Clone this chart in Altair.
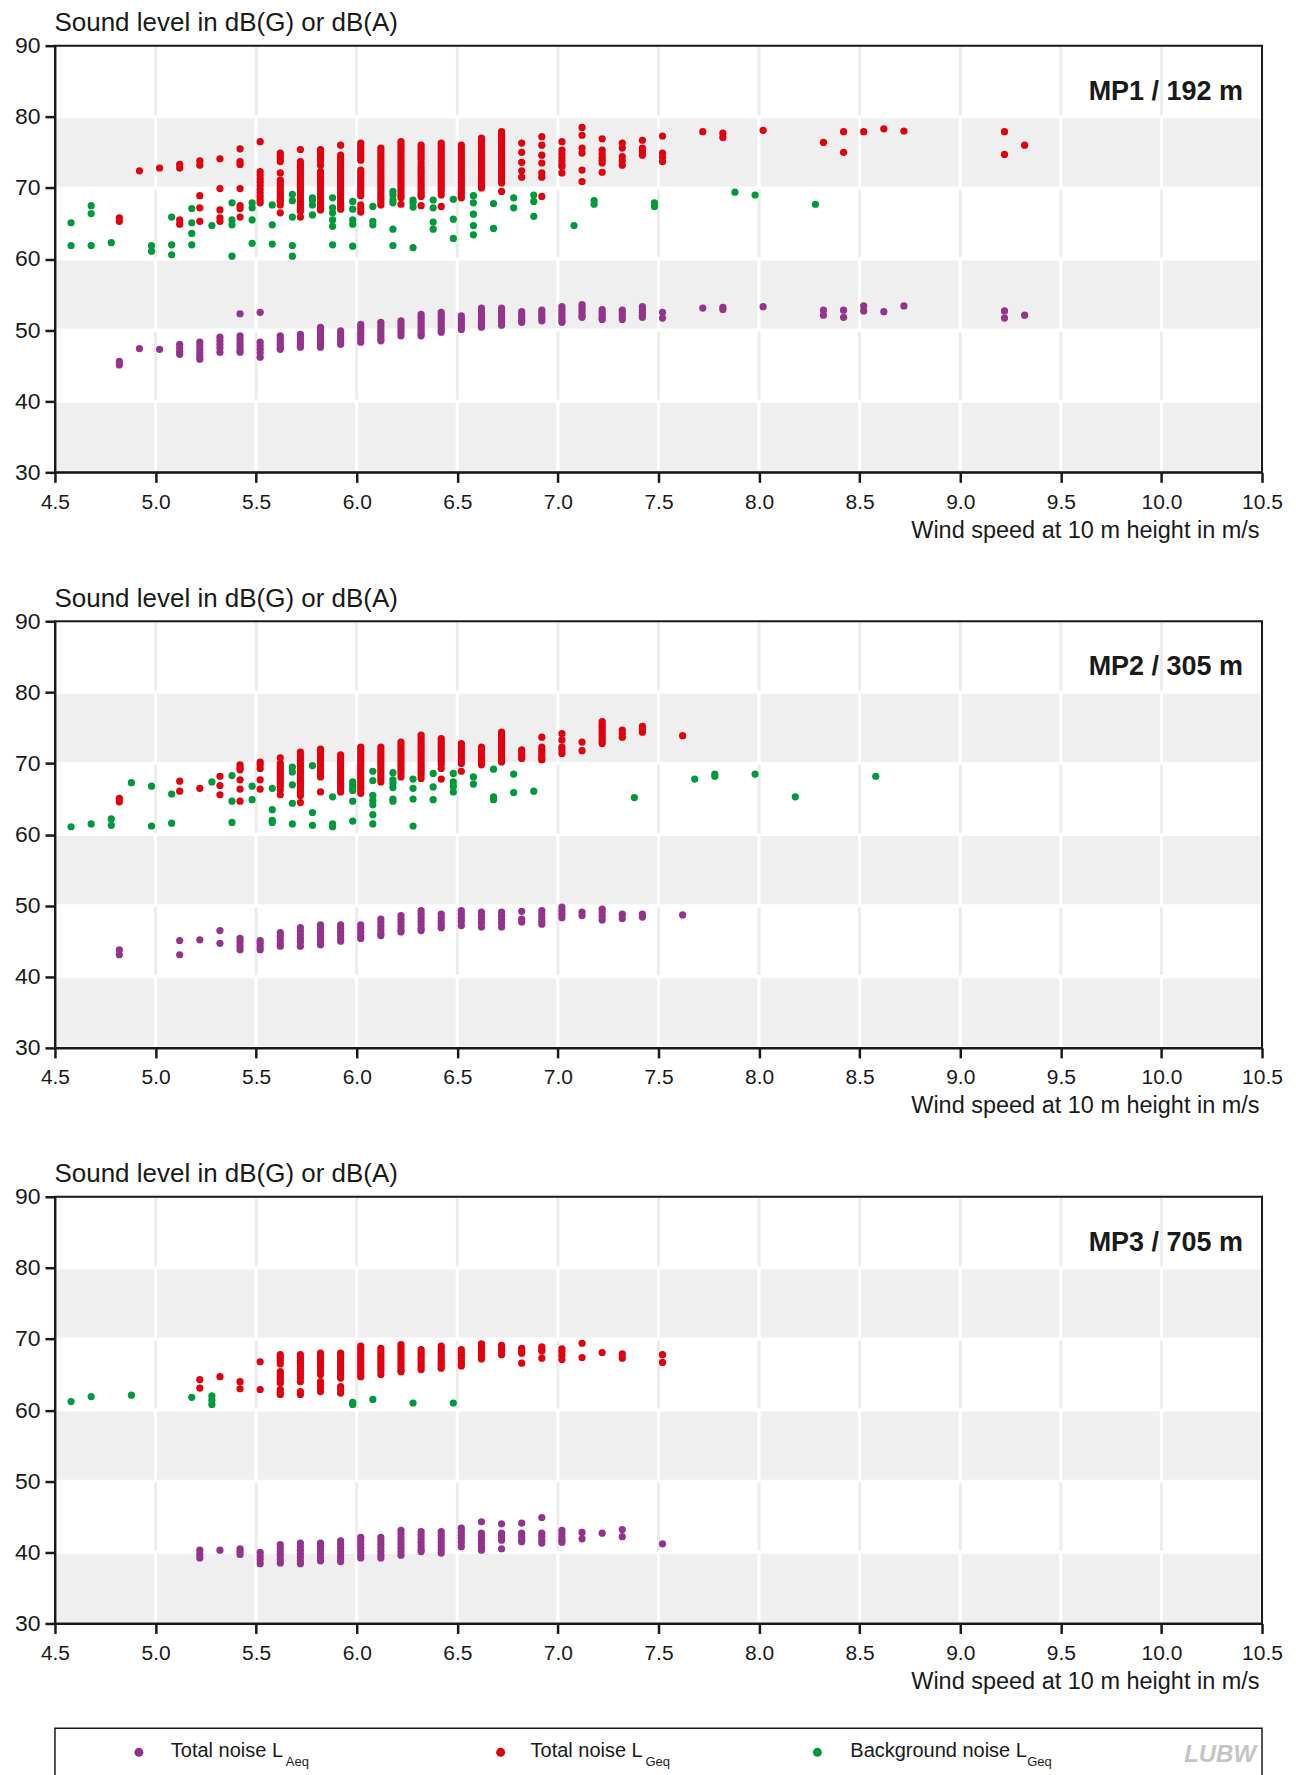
import altair as alt
import pandas as pd

# ---------------- data ----------------
XTICKS = [4.5, 5.0, 5.5, 6.0, 6.5, 7.0, 7.5, 8.0, 8.5, 9.0, 9.5, 10.0, 10.5]
YTICKS = [30, 40, 50, 60, 70, 80, 90]
GRAY_BANDS = [(30, 40), (50, 60), (70, 80)]
SERIES = ["Total noise LAeq", "Total noise LGeq", "Background noise LGeq"]
COLORS = ["#94338c", "#e2000f", "#009a3c"]
PANEL_LABELS = ["MP1 / 192 m", "MP2 / 305 m", "MP3 / 705 m"]
LEGEND_MAIN = ["Total noise L", "Total noise L", "Background noise L"]
LEGEND_SUB = ["Aeq", "Geq", "Geq"]

# ---- MP1 ----
MP1_AEQ = [
    (4.82, [45.6, 45.1]), (4.92, [47.4]), (5.02, [47.3]),
    (5.12, [48.0, 47.5, 47.0, 46.6]),
    (5.22, [48.3, 47.8, 47.3, 46.8, 46.3, 45.9]),
    (5.32, [49.0, 48.5, 48.0, 47.5, 46.9]),
    (5.42, [52.3, 49.2, 48.7, 48.2, 47.7, 47.2, 46.9]),
    (5.52, [52.5, 48.3, 47.8, 47.3, 46.8, 46.2]),
    (5.62, [49.2, 48.8, 48.4, 48.0, 47.6, 47.3]),
    (5.72, [49.4, 49.0, 48.6, 48.2, 47.8, 47.6]),
    (5.82, [50.4, 50.0, 49.6, 49.2, 48.8, 48.4, 48.0, 47.6]),
    (5.92, [49.9, 49.5, 49.1, 48.7, 48.3, 48.0]),
    (6.02, [50.8, 50.4, 50.0, 49.6, 49.2, 48.8, 48.3]),
    (6.12, [51.1, 50.7, 50.3, 49.9, 49.5, 49.1, 48.7, 48.5]),
    (6.22, [51.3, 50.9, 50.5, 50.1, 49.7, 49.2]),
    (6.32, [52.2, 51.8, 51.4, 51.0, 50.6, 50.2, 49.8, 49.4, 49.2]),
    (6.42, [52.5, 52.1, 51.7, 51.3, 50.9, 50.5, 50.1, 49.7]),
    (6.52, [52.0, 51.6, 51.2, 50.8, 50.4, 50.1]),
    (6.62, [53.1, 52.7, 52.3, 51.9, 51.5, 51.1, 50.7, 50.4]),
    (6.72, [53.1, 52.7, 52.3, 51.9, 51.5, 51.1, 50.7]),
    (6.82, [52.6, 52.2, 51.8, 51.4, 51.1]),
    (6.92, [52.8, 52.4, 52.0, 51.6, 51.3]),
    (7.02, [53.3, 52.9, 52.5, 52.1, 51.7, 51.3, 51.1]),
    (7.12, [53.6, 53.2, 52.8, 52.4, 52.0, 51.8]),
    (7.22, [52.9, 52.5, 52.1, 51.7, 51.5]),
    (7.32, [52.8, 52.4, 52.0, 51.5]),
    (7.42, [53.3, 52.9, 52.5, 52.1, 51.8]),
    (7.52, [52.5, 51.7]), (7.72, [53.1]), (7.82, [53.2, 52.9]), (8.02, [53.3]),
    (8.32, [52.8, 52.1]), (8.42, [52.8, 51.8]), (8.52, [53.4, 52.7]),
    (8.62, [52.6]), (8.72, [53.4]), (9.22, [52.7, 51.7]), (9.32, [52.1]),
]
MP1_GEQ = [
    (4.82, [65.8, 65.3]), (4.92, [72.4]), (5.02, [72.8]),
    (5.12, [73.3, 72.8, 65.5, 64.9]),
    (5.22, [73.8, 73.2, 68.9, 67.2, 65.3]),
    (5.32, [74.1, 69.9, 66.9, 65.8, 65.3]),
    (5.42, [75.5, 73.7, 73.3, 69.9, 67.5, 67.1, 65.9]),
    (5.52, [76.5, 72.3, 71.8, 71.3, 70.8, 70.3, 69.8, 69.3, 68.8, 68.3, 67.9]),
    (5.62, [74.9, 74.5, 74.1, 73.7, 72.1, 71.1, 70.7, 70.3, 69.9, 69.5, 69.1, 68.7, 68.3, 68.1, 67.6, 66.5]),
    (5.72, [75.4, 73.7, 73.3, 72.9, 72.5, 72.1, 71.7, 71.3, 70.9, 70.5, 70.1, 69.7, 69.3, 68.9, 68.5, 68.1, 67.7, 67.3, 66.9, 66.7, 65.9]),
    (5.82, [75.4, 75.0, 74.6, 74.2, 73.8, 73.2, 72.3, 71.9, 71.5, 71.1, 70.7, 70.3, 70.0, 69.5, 69.1, 68.7, 68.3, 67.9, 67.5, 67.1, 66.9]),
    (5.92, [76.0, 74.6, 74.2, 73.8, 73.4, 73.0, 72.6, 72.2, 71.8, 71.4, 71.0, 70.6, 70.2, 69.8, 69.4, 69.0, 68.6, 68.2, 67.8, 67.4, 67.0]),
    (6.02, [76.3, 75.9, 75.5, 75.1, 74.7, 74.3, 73.9, 72.5, 72.1, 71.7, 71.3, 70.9, 70.5, 70.1, 69.7, 69.3, 68.9, 67.6, 67.1, 66.6]),
    (6.12, [75.6, 75.2, 74.8, 74.4, 74.0, 73.6, 73.2, 72.8, 72.4, 72.0, 71.6, 71.2, 70.8, 70.4, 70.0, 69.6, 69.2, 68.8, 68.4, 68.0, 67.6]),
    (6.22, [76.5, 76.1, 75.7, 75.3, 74.9, 74.5, 74.1, 73.7, 73.3, 72.9, 72.5, 72.1, 71.7, 71.3, 70.9, 70.5, 70.1, 69.7, 69.3, 68.9, 68.6, 67.7]),
    (6.32, [76.0, 75.6, 75.2, 74.8, 74.4, 74.0, 73.5, 73.0, 72.6, 72.2, 71.8, 71.4, 71.0, 70.6, 70.2, 69.8, 69.4, 69.0, 68.8, 67.5]),
    (6.42, [76.3, 75.9, 75.5, 75.1, 74.7, 74.3, 73.9, 73.5, 73.1, 72.7, 72.3, 71.9, 71.5, 71.1, 70.7, 70.3, 69.9, 69.5, 69.0, 67.4]),
    (6.52, [76.0, 75.6, 75.2, 74.8, 74.4, 74.0, 73.6, 73.2, 72.8, 72.4, 72.0, 71.6, 71.2, 70.8, 70.4, 70.0, 69.6, 69.2, 68.8, 68.6]),
    (6.62, [77.0, 76.6, 76.2, 75.8, 75.4, 75.0, 74.6, 74.2, 73.8, 73.4, 73.0, 72.6, 72.2, 71.8, 71.4, 71.0, 70.6, 70.2, 70.0]),
    (6.72, [77.9, 77.5, 77.1, 76.7, 76.3, 75.9, 75.5, 75.1, 74.7, 74.3, 73.9, 73.5, 73.1, 72.7, 72.3, 71.9, 71.5, 71.1, 70.7, 69.5]),
    (6.82, [76.3, 75.0, 73.6, 72.4, 71.5]),
    (6.92, [77.2, 76.0, 74.6, 73.5, 72.1, 71.5, 68.8]),
    (7.02, [76.5, 75.3, 74.8, 74.3, 73.8, 73.3, 73.0, 72.1]),
    (7.12, [78.5, 77.4, 75.6, 74.9, 72.5, 70.9]),
    (7.22, [76.9, 75.3, 74.8, 74.3, 73.9, 73.5, 72.2]),
    (7.32, [76.3, 75.6, 74.4, 73.8, 73.2]),
    (7.42, [76.7, 75.6, 75.1, 74.6]),
    (7.52, [77.3, 74.9, 74.3, 73.7]),
    (7.72, [77.9]), (7.82, [77.7, 77.1]), (8.02, [78.1]), (8.32, [76.4]),
    (8.42, [77.9, 75.0]), (8.52, [77.9]), (8.62, [78.3]), (8.72, [78.0]),
    (9.22, [77.9, 74.7]), (9.32, [76.0]),
]
MP1_BG = [
    (4.58, [65.1, 61.9]), (4.68, [67.5, 66.4, 61.9]), (4.78, [62.3]),
    (4.98, [61.9, 61.1]), (5.08, [65.9, 62.0, 60.6]),
    (5.18, [67.1, 65.1, 63.6, 62.0]), (5.28, [64.7]),
    (5.38, [67.9, 65.5, 64.8, 60.4]), (5.48, [67.9, 67.2, 65.5, 62.2]),
    (5.58, [67.6, 64.8, 62.1]), (5.68, [69.1, 68.2, 65.9, 61.9, 60.4]),
    (5.78, [68.6, 68.3, 67.6, 66.2]), (5.88, [68.6, 67.2, 66.5, 65.5, 64.6, 62.0]),
    (5.98, [68.1, 67.0, 65.5, 64.9, 61.8]), (6.08, [67.4, 65.3, 64.8]),
    (6.18, [69.5, 69.0, 68.3, 67.9, 64.2, 61.9]), (6.28, [68.3, 67.9, 67.3, 61.6]),
    (6.38, [68.3, 67.2, 65.2, 64.2]), (6.48, [68.4, 65.6, 62.9]),
    (6.58, [68.9, 67.9, 66.3, 64.7, 63.4]), (6.68, [67.8, 64.3]),
    (6.78, [68.6, 67.2]), (6.88, [69.0, 68.1, 66.0]), (7.08, [64.7]),
    (7.18, [68.2, 67.7]), (7.48, [67.9, 67.4]), (7.88, [69.4]), (7.98, [69.0]),
    (8.28, [67.7]),
]

# ---- MP2 ----
MP2_AEQ = [
    (4.82, [43.8, 43.1]), (5.12, [45.1, 43.1]), (5.22, [45.2]), (5.32, [46.5, 44.7]),
    (5.42, [45.4, 44.9, 44.3, 43.8]), (5.52, [45.1, 44.7, 44.2, 43.8]),
    (5.62, [46.2, 45.7, 45.2, 44.7, 44.3]), (5.72, [46.9, 46.4, 45.9, 45.4, 44.9, 44.3]),
    (5.82, [47.3, 46.8, 46.3, 45.8, 45.3, 44.8, 44.5]), (5.92, [47.3, 46.8, 46.3, 45.8, 45.3, 45.0]),
    (6.02, [47.3, 46.8, 46.3, 45.8, 45.4]), (6.12, [48.1, 47.6, 47.1, 46.6, 46.1, 45.8]),
    (6.22, [48.6, 48.1, 47.6, 47.1, 46.6, 46.3]), (6.32, [49.3, 48.8, 48.3, 47.8, 47.3, 46.8, 46.5]),
    (6.42, [48.8, 48.3, 47.8, 47.3, 46.9]), (6.52, [49.3, 48.8, 48.3, 47.8, 47.2]),
    (6.62, [49.1, 48.6, 48.1, 47.6, 47.0]), (6.72, [49.1, 48.6, 48.1, 47.6, 47.0]),
    (6.82, [49.2, 48.1, 47.7]), (6.92, [49.3, 48.8, 48.3, 47.8, 47.4]),
    (7.02, [49.8, 49.3, 48.8, 48.3]), (7.12, [49.1, 48.6]), (7.22, [49.5, 49.0, 48.5, 48.0]),
    (7.32, [48.8, 48.2]), (7.42, [48.8, 48.4]), (7.62, [48.7]),
]
MP2_GEQ = [
    (4.82, [65.1, 64.6]), (5.12, [67.5, 66.1]), (5.22, [66.5]), (5.32, [68.2, 66.9, 65.6]),
    (5.42, [69.8, 69.4, 69.1, 67.7, 66.4, 64.7]), (5.52, [70.2, 69.8, 69.3, 67.7, 66.4]),
    (5.62, [70.8, 70.0, 69.6, 69.2, 68.8, 68.4, 68.0, 67.6, 67.2, 66.8, 66.3, 65.6]),
    (5.72, [71.6, 71.2, 70.8, 70.4, 70.0, 69.6, 69.2, 68.8, 68.4, 68.0, 67.6, 67.2, 66.8, 66.4, 66.0, 65.5, 64.5]),
    (5.82, [72.0, 71.6, 71.2, 70.8, 70.4, 70.0, 69.6, 69.2, 68.8, 68.4, 68.1, 66.0]),
    (5.92, [71.2, 70.8, 70.4, 70.0, 69.6, 69.2, 68.8, 68.4, 68.0, 67.6, 67.2, 66.8, 66.4, 66.0]),
    (6.02, [72.3, 71.9, 71.5, 71.1, 70.7, 70.3, 69.9, 69.5, 69.1, 68.7, 68.3, 67.9, 67.5, 67.1, 66.7, 66.3, 65.8]),
    (6.12, [72.3, 71.9, 71.5, 71.1, 70.7, 70.3, 69.9, 69.5, 69.1, 68.7, 68.3, 67.9, 67.4]),
    (6.22, [73.0, 72.6, 72.2, 71.8, 71.4, 71.0, 70.6, 70.2, 69.8, 69.4, 69.0, 68.6, 68.1]),
    (6.32, [74.0, 73.6, 73.2, 72.8, 72.4, 72.0, 71.6, 71.2, 70.8, 70.4, 70.0, 69.6, 69.2, 68.8, 68.4, 67.9]),
    (6.42, [73.5, 73.1, 72.7, 72.3, 71.9, 71.5, 71.1, 70.7, 70.3, 69.9, 69.3, 67.8]),
    (6.52, [72.8, 72.4, 72.0, 71.6, 71.2, 70.8, 70.4, 70.0, 68.9]),
    (6.62, [72.3, 71.9, 71.5, 71.1, 70.7, 70.3, 69.8]),
    (6.72, [74.4, 74.0, 73.6, 73.2, 72.8, 72.4, 72.0, 71.6, 71.2, 70.8, 70.4, 70.2]),
    (6.82, [71.9, 71.5, 71.1, 70.7]), (6.92, [73.7, 72.3, 71.9, 71.5, 71.1, 70.7, 70.5]),
    (7.02, [74.2, 73.3, 72.3, 71.9, 71.4]), (7.12, [73.0, 71.8]),
    (7.22, [75.9, 75.5, 75.1, 74.7, 74.3, 73.9, 73.5, 73.1, 72.8]),
    (7.32, [74.7, 74.2, 73.7]), (7.42, [75.2, 74.8, 74.4]), (7.62, [73.9]),
]
MP2_BG = [
    (4.58, [61.1]), (4.68, [61.5]), (4.78, [62.2, 61.3]), (4.88, [67.3]),
    (4.98, [66.8, 61.2]), (5.08, [65.7, 61.6]), (5.28, [67.4]), (5.38, [68.3, 64.7, 61.7]),
    (5.48, [66.8, 64.9]), (5.58, [66.5, 63.5, 62.0, 61.7]), (5.68, [69.5, 68.8, 67.0, 64.4, 61.5]),
    (5.78, [69.7, 63.1, 61.3]), (5.88, [65.3, 61.5, 61.1]), (5.98, [67.4, 67.0, 66.6, 66.2, 64.7, 61.9]),
    (6.08, [68.9, 67.6, 65.5, 64.8, 64.2, 62.8, 61.5]), (6.18, [68.7, 67.7, 67.2, 66.6, 65.0, 64.7]),
    (6.28, [67.8, 66.5, 65.0, 61.2]), (6.38, [68.6, 66.7, 64.9]), (6.48, [68.6, 67.4, 66.8, 66.0]),
    (6.58, [68.1, 67.1]), (6.68, [69.2, 65.3, 64.9]), (6.78, [68.5, 65.9]), (6.88, [66.1]),
    (7.38, [65.2]), (7.68, [67.8]), (7.78, [68.5, 68.2]), (7.98, [68.5]), (8.18, [65.3]),
    (8.58, [68.2]),
]

# ---- MP3 ----
MP3_AEQ = [
    (5.22, [40.3, 39.7, 39.2]), (5.32, [40.3]), (5.42, [40.5, 40.1, 39.7]),
    (5.52, [40.0, 39.5, 39.0, 38.4]), (5.62, [41.1, 40.6, 40.1, 39.6, 39.0, 38.5]),
    (5.72, [41.3, 40.8, 40.3, 39.8, 39.3, 38.8, 38.4]), (5.82, [41.3, 40.8, 40.3, 39.8, 39.3, 38.8]),
    (5.92, [41.6, 41.1, 40.6, 40.1, 39.6, 39.1, 38.7]), (6.02, [42.1, 41.6, 41.1, 40.6, 40.1, 39.6, 39.2]),
    (6.12, [42.1, 41.6, 41.1, 40.6, 40.1, 39.6, 39.2]),
    (6.22, [43.1, 42.6, 42.1, 41.6, 41.1, 40.6, 40.1, 39.6]),
    (6.32, [42.9, 42.4, 41.9, 41.4, 40.9, 40.4, 40.1]),
    (6.42, [42.9, 42.4, 41.9, 41.4, 40.9, 40.4, 39.9]),
    (6.52, [43.4, 42.9, 42.4, 41.9, 41.4, 40.8]),
    (6.62, [44.3, 42.7, 42.2, 41.7, 41.2, 40.7, 40.3]),
    (6.72, [44.0, 42.7, 42.2, 41.7, 40.5]), (6.82, [44.1, 42.7, 42.2, 41.8, 41.5]),
    (6.92, [44.9, 42.7, 42.2, 41.7, 41.3]), (7.02, [43.1, 42.6, 42.1, 41.7, 41.4]),
    (7.12, [42.8, 41.9]), (7.22, [42.7]), (7.32, [43.2, 42.2]), (7.52, [41.2]),
]
MP3_GEQ = [
    (5.22, [64.3, 63.1]), (5.32, [64.7]), (5.42, [64.0, 63.0]), (5.52, [66.8, 62.9]),
    (5.62, [67.8, 67.4, 67.0, 66.5, 65.4, 65.0, 64.6, 64.2, 63.8, 62.9, 62.5, 62.2]),
    (5.72, [67.8, 67.4, 67.0, 66.6, 66.2, 65.8, 65.4, 65.0, 64.5, 64.0, 62.6, 62.2]),
    (5.82, [68.0, 67.6, 67.2, 66.8, 66.4, 66.0, 65.5, 65.0, 64.0, 63.6, 63.1, 62.6]),
    (5.92, [68.0, 67.6, 67.2, 66.8, 66.4, 66.0, 65.6, 65.2, 64.8, 64.5, 63.3, 62.9, 62.4]),
    (6.02, [69.0, 68.6, 68.2, 67.8, 67.4, 67.0, 66.6, 66.2, 65.8, 65.4, 65.0, 64.7]),
    (6.12, [68.7, 68.3, 67.9, 67.5, 67.1, 66.7, 66.3, 65.9, 65.5, 65.0]),
    (6.22, [69.2, 68.8, 68.4, 68.0, 67.6, 67.2, 66.8, 66.4, 66.0, 65.6, 65.4]),
    (6.32, [68.5, 68.1, 67.7, 67.3, 66.9, 66.5, 66.1, 65.7]),
    (6.42, [69.0, 68.6, 68.2, 67.8, 67.4, 67.0, 66.6, 66.2, 65.9]),
    (6.52, [68.5, 68.1, 67.7, 67.3, 66.9, 66.5, 66.2]),
    (6.62, [69.3, 68.9, 68.5, 68.1, 67.6, 67.2]), (6.72, [69.1, 68.7, 68.3, 67.8]),
    (6.82, [68.7, 68.3, 68.0, 66.6]), (6.92, [68.9, 68.5, 68.3, 67.3]),
    (7.02, [68.6, 68.2, 67.7, 67.1]), (7.12, [69.4, 67.4]), (7.22, [68.1]),
    (7.32, [67.9, 67.3]), (7.52, [67.8, 66.7]),
]
MP3_BG = [
    (4.58, [61.2]), (4.68, [61.9]), (4.88, [62.1]), (5.18, [61.8]),
    (5.28, [62.0, 61.4, 60.8]), (5.98, [61.1, 60.8]), (6.08, [61.5]),
    (6.28, [61.0]), (6.48, [61.0]),
]

# ---------------- layout / style ----------------
W, H = 1208, 427
FONT = "Liberation Sans"
INK = "#1a1a1a"


def to_df(aeq, geq, bg):
    rows = []
    for k, (name, cols) in enumerate(zip(SERIES, [aeq, geq, bg])):
        for ws, vals in cols:
            for v in vals:
                rows.append({"ws": ws, "db": v, "series": name, "k": k})
    return pd.DataFrame(rows)


cells_df = pd.DataFrame(
    [{"x0": XTICKS[i], "x1": XTICKS[i + 1], "y0": lo, "y1": hi}
     for lo, hi in GRAY_BANDS for i in range(len(XTICKS) - 1)]
)
grid_df = pd.DataFrame({"x": XTICKS[1:-1]})
one = pd.DataFrame({"a": [0]})

x_axis = alt.Axis(
    values=XTICKS, format=".1f", title="Wind speed at 10 m height in m/s",
    labelFont=FONT, labelFontSize=21, labelColor=INK, labelFlush=False,
    labelOverlap=False, labelPadding=9, tickSize=10, tickWidth=2.5, tickColor=INK,
    domainColor=INK, domainWidth=2, grid=False, titleFont=FONT, titleFontSize=23.5,
    titleFontWeight="normal", titleColor=INK, titleX=W - 3, titleY=65,
    titleAlign="right", titleBaseline="alphabetic", zindex=1,
)
y_axis = alt.Axis(
    values=YTICKS, format="d", title="Sound level in dB(G) or dB(A)",
    labelFont=FONT, labelFontSize=23, labelColor=INK, labelPadding=5,
    labelFlush=False, labelOverlap=False, tickSize=10, tickWidth=2.5, tickColor=INK,
    domainColor=INK, domainWidth=2, grid=False, titleFont=FONT, titleFontSize=26,
    titleFontWeight="normal", titleColor=INK, titleAngle=0, titleX=-1, titleY=-15,
    titleAlign="left", titleBaseline="alphabetic", zindex=1,
)
xs = alt.Scale(domain=[4.5, 10.5], nice=False, zero=False)
ys = alt.Scale(domain=[30, 90], nice=False, zero=False)


def panel(df, label, legend=False):
    grid = alt.Chart(grid_df).mark_rule(color="#ececec", strokeWidth=3).encode(
        x=alt.X("x:Q", scale=xs, axis=x_axis)
    )
    cells = alt.Chart(cells_df).mark_rect(fill="#efefef", stroke="white", strokeWidth=3).encode(
        x=alt.X("x0:Q", scale=xs, axis=x_axis), x2="x1",
        y=alt.Y("y0:Q", scale=ys, axis=y_axis), y2="y1",
    )
    pts = alt.Chart(df).mark_circle(size=52, opacity=1).encode(
        x=alt.X("ws:Q", scale=xs, axis=x_axis),
        y=alt.Y("db:Q", scale=ys, axis=y_axis),
        color=alt.Color("series:N", scale=alt.Scale(domain=SERIES, range=COLORS), legend=None),
        order=alt.Order("k:Q"),
    )
    frame = alt.Chart(one).mark_rect(fillOpacity=0, stroke=INK, strokeWidth=2).encode(
        x=alt.value(0), x2=alt.value(W), y=alt.value(0), y2=alt.value(H)
    )
    lab = alt.Chart(pd.DataFrame({"t": [label]})).mark_text(
        align="right", baseline="alphabetic", font=FONT, fontSize=27,
        fontWeight="bold", color=INK,
    ).encode(x=alt.value(W - 19), y=alt.value(54), text="t:N")
    layers = [grid, cells, pts, frame, lab]
    if legend:
        top = 532
        box = alt.Chart(one).mark_rect(fill="white", stroke=INK, strokeWidth=1.5).encode(
            x=alt.value(0), x2=alt.value(W), y=alt.value(top), y2=alt.value(top + 70)
        )
        layers.append(box)
        dot_x = [84, 446, 763]
        txt_x = [116, 476, 796]
        sub_dx = [115, 115, 177]
        for i in range(3):
            layers.append(alt.Chart(one).mark_circle(size=80, opacity=1, color=COLORS[i]).encode(
                x=alt.value(dot_x[i]), y=alt.value(top + 24)))
            layers.append(alt.Chart(one).mark_text(
                align="left", baseline="alphabetic", font=FONT, fontSize=20, color=INK
            ).encode(x=alt.value(txt_x[i]), y=alt.value(top + 29), text=alt.value(LEGEND_MAIN[i])))
            layers.append(alt.Chart(one).mark_text(
                align="left", baseline="alphabetic", font=FONT, fontSize=13, color=INK
            ).encode(x=alt.value(txt_x[i] + sub_dx[i]), y=alt.value(top + 38),
                     text=alt.value(LEGEND_SUB[i])))
        layers.append(alt.Chart(one).mark_text(
            align="right", baseline="alphabetic", font=FONT, fontSize=24,
            fontWeight="bold", fontStyle="italic", color="#c4c4c4"
        ).encode(x=alt.value(W - 6), y=alt.value(top + 34), text=alt.value("LUBW")))
    return alt.layer(*layers).properties(width=W, height=H)


p1 = panel(to_df(MP1_AEQ, MP1_GEQ, MP1_BG), PANEL_LABELS[0])
p2 = panel(to_df(MP2_AEQ, MP2_GEQ, MP2_BG), PANEL_LABELS[1])
p3 = panel(to_df(MP3_AEQ, MP3_GEQ, MP3_BG), PANEL_LABELS[2], legend=True)

chart = (
    alt.vconcat(p1, p2, p3, spacing=42)
    .properties(padding={"left": 5, "top": 0, "right": 5, "bottom": 0})
    .configure_view(stroke=INK, strokeWidth=2)
    .configure(font=FONT)
)

chart.save("out.html", embed_options={"renderer": "svg", "actions": False})
